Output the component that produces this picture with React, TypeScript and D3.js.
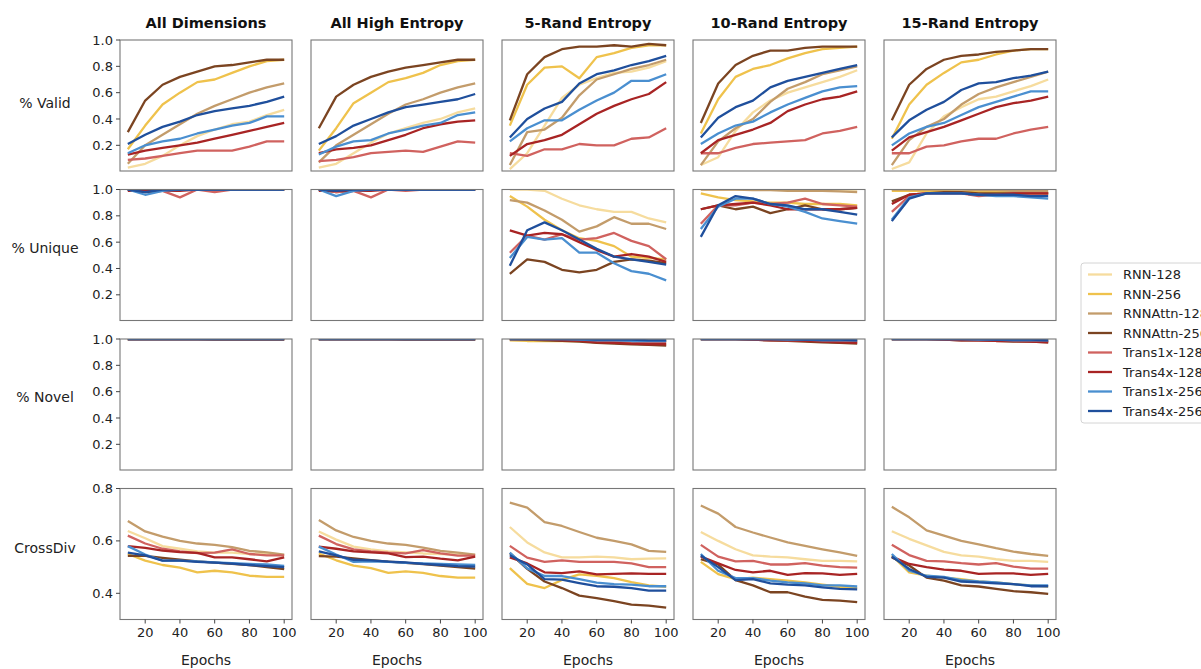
import React from "react";
import * as d3 from "d3";

// Training epochs shared by every panel
const EPOCHS = [10, 20, 30, 40, 50, 60, 70, 80, 90, 100];

const MODELS = [
  "RNN-128",
  "RNN-256",
  "RNNAttn-128",
  "RNNAttn-256",
  "Trans1x-128",
  "Trans4x-128",
  "Trans1x-256",
  "Trans4x-256",
];

const MODEL_COLORS = [
  "#f6dc9e",
  "#efc24c",
  "#c39c6b",
  "#7b4421",
  "#d0625f",
  "#a82424",
  "#4a8fd0",
  "#1f4f9c",
];

const DATASETS = [
  "All Dimensions",
  "All High Entropy",
  "5-Rand Entropy",
  "10-Rand Entropy",
  "15-Rand Entropy",
];

const METRICS = ["% Valid", "% Unique", "% Novel", "CrossDiv"];

const RATIO_TICKS = [0.2, 0.4, 0.6, 0.8, 1.0];
const CROSSDIV_TICKS = [0.4, 0.6, 0.8];
const EPOCH_TICKS = [20, 40, 60, 80, 100];

// ---- % Valid (rows follow MODELS order) ----
const validAllDims = [
  [0.03, 0.06, 0.12, 0.2, 0.27, 0.32, 0.36, 0.38, 0.43, 0.47],
  [0.17, 0.35, 0.51, 0.6, 0.68, 0.7, 0.75, 0.8, 0.84, 0.85],
  [0.06, 0.2, 0.28, 0.36, 0.44, 0.5, 0.55, 0.6, 0.64, 0.67],
  [0.3, 0.54, 0.66, 0.72, 0.76, 0.8, 0.81, 0.83, 0.85, 0.85],
  [0.09, 0.1, 0.12, 0.14, 0.16, 0.16, 0.16, 0.19, 0.23, 0.23],
  [0.13, 0.16, 0.18, 0.2, 0.22, 0.25, 0.28, 0.31, 0.34, 0.37],
  [0.14, 0.2, 0.23, 0.25, 0.29, 0.32, 0.35, 0.37, 0.42, 0.42],
  [0.21, 0.28, 0.34, 0.38, 0.43, 0.46, 0.48, 0.5, 0.53, 0.57],
];
const validHighEnt = [
  [0.03, 0.06, 0.14, 0.22, 0.29, 0.33, 0.37, 0.4, 0.45, 0.48],
  [0.16, 0.33, 0.52, 0.6, 0.68, 0.71, 0.75, 0.81, 0.84, 0.85],
  [0.07, 0.2, 0.28, 0.36, 0.44, 0.51, 0.55, 0.6, 0.64, 0.67],
  [0.33, 0.57, 0.66, 0.72, 0.76, 0.79, 0.81, 0.83, 0.85, 0.85],
  [0.08, 0.09, 0.11, 0.14, 0.15, 0.16, 0.15, 0.19, 0.23, 0.22],
  [0.14, 0.17, 0.18, 0.2, 0.24, 0.28, 0.33, 0.36, 0.38, 0.39],
  [0.13, 0.19, 0.23, 0.24, 0.29, 0.32, 0.35, 0.37, 0.43, 0.45],
  [0.21, 0.27, 0.35, 0.4, 0.45, 0.49, 0.51, 0.53, 0.55, 0.59],
];
const valid5Rand = [
  [0.02, 0.14, 0.35, 0.56, 0.66, 0.71, 0.75, 0.76, 0.79, 0.84],
  [0.35, 0.66, 0.79, 0.8, 0.71, 0.87, 0.9, 0.94, 0.96, 0.96],
  [0.05, 0.3, 0.32, 0.41, 0.58, 0.7, 0.74, 0.78, 0.81, 0.85],
  [0.39, 0.74, 0.87, 0.93, 0.95, 0.95, 0.96, 0.95, 0.97, 0.96],
  [0.14, 0.12, 0.17, 0.17, 0.21, 0.2, 0.2, 0.25, 0.26, 0.33],
  [0.12, 0.21, 0.24, 0.28, 0.36, 0.44, 0.5, 0.55, 0.59, 0.68],
  [0.23, 0.33, 0.39, 0.39, 0.47, 0.54, 0.6, 0.69, 0.69, 0.74],
  [0.26, 0.4, 0.48, 0.53, 0.67, 0.74, 0.77, 0.81, 0.84, 0.88],
];
const valid10Rand = [
  [0.05, 0.11, 0.31, 0.45, 0.54, 0.6, 0.64, 0.68, 0.72, 0.77],
  [0.29, 0.55, 0.72, 0.78, 0.81, 0.86, 0.9, 0.93, 0.94, 0.95],
  [0.05, 0.23, 0.33, 0.4, 0.53, 0.63, 0.68, 0.74, 0.77, 0.8],
  [0.37, 0.67, 0.81, 0.88, 0.92, 0.92, 0.94, 0.95, 0.95, 0.95],
  [0.14, 0.14, 0.18, 0.21, 0.22, 0.23, 0.24, 0.29, 0.31, 0.34],
  [0.14, 0.24, 0.28, 0.32, 0.37, 0.46, 0.51, 0.55, 0.57, 0.61],
  [0.21, 0.29, 0.35, 0.38, 0.45, 0.51, 0.56, 0.61, 0.64, 0.65],
  [0.26, 0.41, 0.49, 0.54, 0.64, 0.69, 0.72, 0.75, 0.78, 0.81],
];
const valid15Rand = [
  [0.02, 0.07, 0.29, 0.42, 0.49, 0.55, 0.57, 0.61, 0.65, 0.7],
  [0.25, 0.51, 0.66, 0.75, 0.83, 0.85, 0.89, 0.92, 0.93, 0.93],
  [0.05, 0.24, 0.34, 0.4, 0.51, 0.59, 0.64, 0.68, 0.72, 0.76],
  [0.39, 0.66, 0.78, 0.85, 0.88, 0.89, 0.91, 0.92, 0.93, 0.93],
  [0.14, 0.14, 0.19, 0.2, 0.23, 0.25, 0.25, 0.29, 0.32, 0.34],
  [0.16, 0.26, 0.3, 0.34, 0.39, 0.44, 0.49, 0.52, 0.54, 0.57],
  [0.2, 0.29, 0.34, 0.37, 0.43, 0.49, 0.53, 0.57, 0.61, 0.61],
  [0.26, 0.39, 0.47, 0.53, 0.62, 0.67, 0.68, 0.71, 0.73, 0.76],
];

// ---- % Unique ----
const uniqueAllDims = [
  [1, 1, 1, 1, 1, 1, 1, 1, 1, 1],
  [1, 1, 1, 1, 1, 1, 1, 1, 1, 1],
  [1, 1, 1, 1, 1, 1, 1, 1, 1, 1],
  [1, 0.98, 0.99, 1, 1, 1, 1, 1, 1, 1],
  [1, 0.99, 0.99, 0.94, 1, 0.98, 1, 1, 1, 1],
  [0.99, 0.99, 0.99, 0.99, 1, 1, 1, 1, 1, 1],
  [1, 0.96, 0.99, 1, 1, 1, 1, 1, 1, 1],
  [1, 0.98, 1, 1, 1, 1, 1, 1, 1, 1],
];
const uniqueHighEnt = [
  [1, 1, 1, 1, 1, 1, 1, 1, 1, 1],
  [1, 1, 1, 1, 1, 1, 1, 1, 1, 1],
  [1, 1, 1, 1, 1, 1, 1, 1, 1, 1],
  [1, 0.98, 0.99, 1, 1, 1, 1, 1, 1, 1],
  [1, 0.98, 0.99, 0.94, 1, 0.99, 1, 1, 1, 1],
  [0.99, 0.99, 0.99, 0.99, 1, 1, 1, 1, 1, 1],
  [1, 0.95, 0.99, 1, 1, 1, 1, 1, 1, 1],
  [1, 0.99, 1, 1, 1, 1, 1, 1, 1, 1],
];
const unique5Rand = [
  [1, 1, 0.99, 0.93, 0.88, 0.85, 0.83, 0.83, 0.78, 0.75],
  [0.95, 0.87, 0.77, 0.69, 0.63, 0.61, 0.57, 0.49, 0.48, 0.47],
  [0.92, 0.9, 0.84, 0.77, 0.68, 0.72, 0.79, 0.74, 0.74, 0.7],
  [0.36, 0.47, 0.45, 0.39, 0.37, 0.39, 0.45, 0.47, 0.46, 0.44],
  [0.52, 0.65, 0.62, 0.66, 0.62, 0.63, 0.67, 0.61, 0.57, 0.47],
  [0.69, 0.65, 0.67, 0.66, 0.6, 0.54, 0.49, 0.51, 0.49, 0.45],
  [0.48, 0.64, 0.62, 0.63, 0.52, 0.52, 0.44, 0.38, 0.36, 0.31],
  [0.42, 0.69, 0.75, 0.69, 0.62, 0.55, 0.49, 0.47, 0.45, 0.43],
];
const unique10Rand = [
  [1, 1, 1, 1, 1, 1, 1, 1, 1, 1],
  [0.97, 0.94, 0.92, 0.91, 0.9, 0.9, 0.89, 0.89, 0.89, 0.88],
  [1, 1, 1, 0.995, 0.995, 0.99, 0.99, 0.99, 0.985, 0.98],
  [0.85, 0.88, 0.85, 0.87, 0.82, 0.85, 0.88, 0.85, 0.85, 0.86],
  [0.74, 0.88, 0.88, 0.9, 0.89, 0.9, 0.93, 0.89, 0.88, 0.87],
  [0.85, 0.88, 0.89, 0.9, 0.88, 0.85, 0.85, 0.85, 0.85, 0.86],
  [0.7, 0.87, 0.93, 0.93, 0.89, 0.87, 0.83, 0.78, 0.76, 0.74],
  [0.64, 0.88, 0.95, 0.93, 0.89, 0.88, 0.85, 0.85, 0.83, 0.81],
];
const unique15Rand = [
  [1, 1, 1, 1, 1, 1, 1, 1, 1, 1],
  [0.99, 0.99, 0.99, 0.99, 0.98, 0.98, 0.98, 0.98, 0.98, 0.97],
  [1, 1, 1, 1, 1, 0.995, 0.995, 0.99, 0.99, 0.99],
  [0.91, 0.96, 0.97, 0.98, 0.98, 0.97, 0.97, 0.97, 0.97, 0.97],
  [0.83, 0.95, 0.97, 0.97, 0.97, 0.95, 0.96, 0.97, 0.97, 0.97],
  [0.89, 0.96, 0.97, 0.97, 0.97, 0.96, 0.96, 0.97, 0.97, 0.97],
  [0.77, 0.94, 0.97, 0.97, 0.97, 0.96, 0.95, 0.95, 0.94, 0.93],
  [0.76, 0.93, 0.97, 0.97, 0.97, 0.96, 0.96, 0.96, 0.95, 0.95],
];

// ---- % Novel ----
const novelAllDims = [
  [1, 1, 1, 1, 1, 1, 1, 1, 1, 1],
  [1, 1, 1, 1, 1, 1, 1, 1, 1, 1],
  [0.995, 0.995, 0.995, 0.995, 0.995, 0.995, 0.995, 0.995, 0.995, 0.995],
  [1, 1, 1, 1, 1, 0.995, 0.995, 0.995, 0.995, 0.995],
  [1, 1, 1, 1, 1, 1, 1, 1, 1, 1],
  [1, 1, 1, 1, 1, 1, 1, 1, 1, 1],
  [1, 1, 1, 1, 1, 1, 1, 1, 1, 1],
  [1, 1, 1, 1, 1, 1, 1, 1, 1, 1],
];
const novelHighEnt = [
  [1, 1, 1, 1, 1, 1, 1, 1, 1, 1],
  [1, 1, 1, 1, 1, 1, 1, 1, 1, 1],
  [0.995, 0.995, 0.995, 0.995, 0.995, 0.995, 0.995, 0.995, 0.995, 0.995],
  [1, 1, 1, 1, 1, 0.995, 0.995, 0.995, 0.995, 0.995],
  [1, 1, 1, 1, 1, 1, 1, 1, 1, 1],
  [1, 1, 1, 1, 1, 1, 1, 1, 1, 1],
  [1, 1, 1, 1, 1, 1, 1, 1, 1, 1],
  [1, 1, 1, 1, 1, 1, 1, 1, 1, 1],
];
const novel5Rand = [
  [1, 1, 1, 1, 1, 1, 1, 1, 1, 1],
  [0.99, 0.985, 0.985, 0.985, 0.985, 0.985, 0.985, 0.985, 0.985, 0.985],
  [1, 1, 1, 1, 0.995, 0.99, 0.99, 0.99, 0.99, 0.99],
  [1, 0.995, 0.99, 0.985, 0.98, 0.97, 0.965, 0.96, 0.955, 0.95],
  [1, 1, 1, 0.995, 0.99, 0.985, 0.98, 0.98, 0.975, 0.975],
  [1, 1, 0.995, 0.99, 0.985, 0.975, 0.97, 0.965, 0.96, 0.96],
  [1, 1, 1, 1, 0.995, 0.99, 0.99, 0.985, 0.985, 0.985],
  [1, 1, 1, 1, 1, 0.995, 0.995, 0.995, 0.99, 0.99],
];
const novel10Rand = [
  [1, 1, 1, 1, 1, 1, 1, 1, 1, 1],
  [1, 1, 1, 0.995, 0.995, 0.99, 0.99, 0.99, 0.99, 0.99],
  [1, 1, 1, 1, 1, 0.995, 0.995, 0.99, 0.99, 0.99],
  [1, 1, 1, 0.995, 0.99, 0.985, 0.98, 0.975, 0.97, 0.965],
  [1, 1, 1, 1, 0.995, 0.99, 0.99, 0.985, 0.98, 0.98],
  [1, 1, 1, 0.995, 0.99, 0.99, 0.985, 0.98, 0.975, 0.97],
  [1, 1, 1, 1, 1, 0.995, 0.995, 0.99, 0.99, 0.99],
  [1, 1, 1, 1, 1, 1, 0.995, 0.995, 0.995, 0.99],
];
const novel15Rand = [
  [1, 1, 1, 1, 1, 1, 1, 1, 1, 1],
  [1, 1, 1, 1, 0.995, 0.995, 0.99, 0.99, 0.99, 0.99],
  [1, 1, 1, 1, 1, 1, 0.995, 0.995, 0.99, 0.99],
  [1, 1, 1, 0.995, 0.99, 0.99, 0.985, 0.98, 0.98, 0.975],
  [1, 1, 1, 1, 0.995, 0.99, 0.99, 0.985, 0.985, 0.98],
  [1, 1, 1, 0.995, 0.99, 0.99, 0.985, 0.985, 0.98, 0.975],
  [1, 1, 1, 1, 1, 0.995, 0.995, 0.99, 0.99, 0.99],
  [1, 1, 1, 1, 1, 1, 0.995, 0.995, 0.995, 0.99],
];

// ---- CrossDiv ----
const crossDivAllDims = [
  [0.638, 0.61, 0.58, 0.57, 0.56, 0.555, 0.555, 0.55, 0.55, 0.545],
  [0.55, 0.525, 0.508, 0.498, 0.48, 0.486, 0.48, 0.467, 0.463, 0.463],
  [0.676, 0.636, 0.616, 0.6, 0.59, 0.585, 0.576, 0.562, 0.556, 0.548],
  [0.543, 0.543, 0.535, 0.528, 0.522, 0.517, 0.512, 0.508, 0.5, 0.492],
  [0.62, 0.59, 0.57, 0.56, 0.553, 0.555, 0.568, 0.55, 0.545, 0.545],
  [0.58, 0.573, 0.563, 0.557, 0.554, 0.537, 0.537, 0.53, 0.522, 0.537],
  [0.58, 0.548, 0.525, 0.525, 0.522, 0.518, 0.515, 0.512, 0.51, 0.505],
  [0.555, 0.545, 0.525, 0.525, 0.52, 0.517, 0.513, 0.508, 0.504, 0.5],
];
const crossDivHighEnt = [
  [0.636, 0.605, 0.578, 0.568, 0.56, 0.556, 0.552, 0.55, 0.548, 0.546],
  [0.552, 0.526, 0.506, 0.496, 0.478, 0.484, 0.478, 0.466, 0.46, 0.46],
  [0.68, 0.64, 0.615, 0.6, 0.59, 0.585, 0.574, 0.562, 0.555, 0.548],
  [0.542, 0.54, 0.533, 0.527, 0.521, 0.516, 0.511, 0.506, 0.5, 0.494],
  [0.62, 0.588, 0.568, 0.56, 0.555, 0.552, 0.565, 0.552, 0.544, 0.544],
  [0.578, 0.57, 0.56, 0.556, 0.552, 0.538, 0.54, 0.532, 0.526, 0.54],
  [0.578, 0.548, 0.52, 0.522, 0.52, 0.516, 0.514, 0.512, 0.51, 0.508],
  [0.56, 0.545, 0.528, 0.526, 0.521, 0.518, 0.512, 0.508, 0.504, 0.502],
];
const crossDiv5Rand = [
  [0.653, 0.594, 0.556, 0.537, 0.537, 0.54, 0.537, 0.53, 0.532, 0.533],
  [0.496, 0.436, 0.42, 0.451, 0.472, 0.467, 0.458, 0.443, 0.43, 0.425],
  [0.746, 0.727, 0.672, 0.657, 0.634, 0.612, 0.6, 0.587, 0.562, 0.558],
  [0.553, 0.493, 0.445, 0.42, 0.391, 0.382, 0.37, 0.357, 0.353, 0.345],
  [0.581, 0.536, 0.52, 0.526, 0.52, 0.52, 0.52, 0.514, 0.5, 0.5],
  [0.537, 0.514, 0.48, 0.477, 0.484, 0.472, 0.474, 0.476, 0.474, 0.474],
  [0.555, 0.495, 0.466, 0.466, 0.454, 0.441, 0.435, 0.433, 0.427, 0.427],
  [0.545, 0.51, 0.454, 0.452, 0.439, 0.427, 0.425, 0.42, 0.41, 0.41],
];
const crossDiv10Rand = [
  [0.634, 0.6, 0.568, 0.545, 0.54, 0.537, 0.53, 0.524, 0.524, 0.522],
  [0.52, 0.473, 0.454, 0.46, 0.454, 0.448, 0.442, 0.433, 0.425, 0.42],
  [0.735, 0.704, 0.653, 0.632, 0.613, 0.594, 0.581, 0.568, 0.556, 0.543],
  [0.53, 0.51, 0.45, 0.43, 0.404, 0.404, 0.387, 0.375, 0.372, 0.366],
  [0.585, 0.54, 0.522, 0.524, 0.51, 0.51, 0.515, 0.506, 0.5, 0.498],
  [0.54, 0.514, 0.489, 0.48, 0.486, 0.47, 0.477, 0.476, 0.47, 0.474],
  [0.55, 0.486, 0.458, 0.458, 0.448, 0.442, 0.438, 0.43, 0.43, 0.426],
  [0.544, 0.5, 0.45, 0.454, 0.438, 0.433, 0.43, 0.423, 0.417, 0.415],
];
const crossDiv15Rand = [
  [0.637, 0.608, 0.583, 0.558, 0.545, 0.54, 0.53, 0.524, 0.524, 0.52],
  [0.545, 0.48, 0.467, 0.46, 0.454, 0.445, 0.442, 0.435, 0.43, 0.426],
  [0.73, 0.69, 0.64, 0.62, 0.6, 0.587, 0.572, 0.559, 0.55, 0.543],
  [0.537, 0.506, 0.46, 0.448, 0.43, 0.426, 0.417, 0.408, 0.404, 0.398],
  [0.585, 0.546, 0.524, 0.522, 0.515, 0.51, 0.515, 0.502, 0.494, 0.494],
  [0.54, 0.512, 0.5, 0.49, 0.486, 0.474, 0.476, 0.476, 0.47, 0.474],
  [0.55, 0.486, 0.467, 0.463, 0.45, 0.445, 0.442, 0.435, 0.43, 0.43],
  [0.54, 0.493, 0.463, 0.46, 0.445, 0.442, 0.438, 0.435, 0.427, 0.427],
];

const GRID = [
  [validAllDims, validHighEnt, valid5Rand, valid10Rand, valid15Rand],
  [uniqueAllDims, uniqueHighEnt, unique5Rand, unique10Rand, unique15Rand],
  [novelAllDims, novelHighEnt, novel5Rand, novel10Rand, novel15Rand],
  [crossDivAllDims, crossDivHighEnt, crossDiv5Rand, crossDiv10Rand, crossDiv15Rand],
];

// Layout
const W = 1201;
const H = 669;
const PANEL_X0 = 120;
const PANEL_STEP_X = 191;
const PANEL_W = 172;
const PANEL_Y0 = 40;
const PANEL_STEP_Y = 149.5;
const PANEL_H = 131;
const ROW_LABEL_SHIFT = [-2, -7, -7, -6];
const FONT = "DejaVu Sans, Liberation Sans, sans-serif";

const fmt = d3.format(".1f");

function Panel({ row, col }: { row: number; col: number }) {
  const x0 = PANEL_X0 + col * PANEL_STEP_X;
  const y0 = PANEL_Y0 + row * PANEL_STEP_Y;
  const x = d3.scaleLinear().domain([5.5, 104.5]).range([x0, x0 + PANEL_W]);
  const isCross = row === 3;
  const y = d3
    .scaleLinear()
    .domain(isCross ? [0.3, 0.8] : [0.005, 1.0])
    .range([y0 + PANEL_H, y0]);
  const line = d3
    .line<number>()
    .x((_, i) => x(EPOCHS[i]))
    .y((v) => y(v));
  const data = GRID[row][col];
  const clipId = `clip-${row}-${col}`;
  const yTicks = isCross ? CROSSDIV_TICKS : RATIO_TICKS;
  return (
    <g>
      <defs>
        <clipPath id={clipId}>
          <rect x={x0} y={y0} width={PANEL_W} height={PANEL_H} />
        </clipPath>
      </defs>
      <g clipPath={`url(#${clipId})`}>
        {data.map((vals, s) => (
          <path
            key={s}
            d={line(vals) || ""}
            fill="none"
            stroke={MODEL_COLORS[s]}
            strokeWidth={2.3}
            strokeLinejoin="round"
          />
        ))}
      </g>
      <rect
        x={x0}
        y={y0}
        width={PANEL_W}
        height={PANEL_H}
        fill="none"
        stroke="#777"
        strokeWidth={1.1}
      />
      {col === 0 &&
        yTicks.map((t) => (
          <g key={t}>
            <line x1={x0 - 4} x2={x0} y1={y(t)} y2={y(t)} stroke="#444" strokeWidth={1} />
            <text
              x={x0 - 7}
              y={y(t)}
              dy="0.35em"
              textAnchor="end"
              fontSize={13}
              fontFamily={FONT}
              fill="#222"
            >
              {fmt(t)}
            </text>
          </g>
        ))}
      {row === 3 &&
        EPOCH_TICKS.map((t) => (
          <g key={t}>
            <line x1={x(t)} x2={x(t)} y1={y0 + PANEL_H} y2={y0 + PANEL_H + 4} stroke="#444" strokeWidth={1} />
            <text
              x={x(t)}
              y={y0 + PANEL_H + 17}
              textAnchor="middle"
              fontSize={13}
              fontFamily={FONT}
              fill="#222"
            >
              {t}
            </text>
          </g>
        ))}
      {row === 3 && (
        <text
          x={x0 + PANEL_W / 2}
          y={665}
          textAnchor="middle"
          fontSize={14}
          fontFamily={FONT}
          fill="#222"
        >
          Epochs
        </text>
      )}
      {row === 0 && (
        <text
          x={x0 + PANEL_W / 2}
          y={28}
          textAnchor="middle"
          fontSize={14.5}
          fontWeight="bold"
          fontFamily={FONT}
          fill="#111"
        >
          {DATASETS[col]}
        </text>
      )}
      {col === 0 && (
        <text
          x={45}
          y={y0 + PANEL_H / 2 + ROW_LABEL_SHIFT[row]}
          dy="0.35em"
          textAnchor="middle"
          fontSize={14}
          fontFamily={FONT}
          fill="#222"
        >
          {METRICS[row]}
        </text>
      )}
    </g>
  );
}

function Legend() {
  const lx = 1081;
  const ly = 263;
  const step = 19.5;
  return (
    <g>
      <rect
        x={lx}
        y={ly}
        width={140}
        height={160}
        rx={3}
        fill="#fff"
        stroke="#d4d4d4"
        strokeWidth={1}
      />
      {MODELS.map((m, i) => {
        const yy = ly + 11.5 + i * step;
        return (
          <g key={m}>
            <line x1={lx + 7} x2={lx + 31} y1={yy} y2={yy} stroke={MODEL_COLORS[i]} strokeWidth={2.3} />
            <text
              x={lx + 42}
              y={yy}
              dy="0.35em"
              fontSize={13}
              fontFamily={FONT}
              fill="#222"
            >
              {m}
            </text>
          </g>
        );
      })}
    </g>
  );
}

export default function App() {
  const cells: { row: number; col: number }[] = [];
  for (let r = 0; r < METRICS.length; r++) {
    for (let c = 0; c < DATASETS.length; c++) cells.push({ row: r, col: c });
  }
  return (
    <div style={{ position: "fixed", left: 0, top: 0 }}>
      <svg width={W} height={H} style={{ display: "block", background: "#fff" }}>
        <rect x={0} y={0} width={W} height={H} fill="#fff" />
        {cells.map((c) => (
          <Panel key={`${c.row}-${c.col}`} row={c.row} col={c.col} />
        ))}
        <Legend />
      </svg>
    </div>
  );
}
